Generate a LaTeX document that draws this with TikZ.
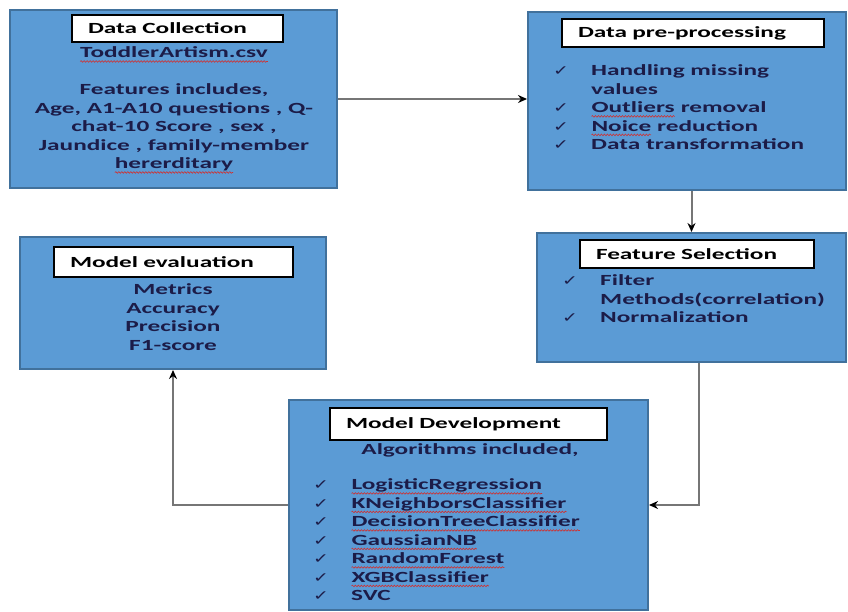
\documentclass[tikz,border=0pt]{standalone}
\usepackage{fontspec}
\setmainfont{Carlito}[FakeStretch=1.63]
\newfontfamily\symfont{DejaVu Sans}[FakeStretch=1.35]
\usetikzlibrary{arrows.meta, decorations.pathmorphing}
\definecolor{boxblue}{HTML}{5B9BD5}
\definecolor{boxedge}{HTML}{41719C}
\definecolor{inknavy}{HTML}{1C1C48}
\definecolor{linkgray}{HTML}{767676}
\definecolor{spellred}{HTML}{D03030}
\newcommand{\tick}{\makebox[38pt][l]{\symfont\fontsize{14}{18.5}\selectfont ✓}}
\newcommand{\nogap}{\hspace*{38pt}}
\newcommand{\spell}[1]{\tikz[baseline=(w.base)]{\node[inner sep=0pt, outer sep=0pt] (w) {#1};
    \draw[spellred, line width=0.6pt, decorate, decoration={snake, amplitude=0.8pt, segment length=3pt}]
        ([yshift=-3.8pt]w.base west) -- ([yshift=-3.8pt]w.base east);}}

\begin{document}
\begin{tikzpicture}[x=1pt, y=-1pt, >={Stealth[length=9pt,width=8pt,black]},
    stage/.style={rectangle, draw=boxedge, line width=2pt, fill=boxblue},
    heading/.style={rectangle, draw=black, line width=1.2pt, fill=white, inner xsep=16pt, align=left,
        font=\fontsize{15.5}{18.5}\selectfont\bfseries},
    body/.style={text=inknavy, inner sep=0pt, font=\fontsize{15.5}{18.5}\selectfont\bfseries,
        execute at begin node=\strut},
    link/.style={->, draw=linkgray, line width=2pt}]
                \useasboundingbox (0,0) rectangle (848,611);

                % stage boxes
                \node[stage, minimum width=327pt, minimum height=178pt] (DC) at (173.5,99) {};
                \node[stage, minimum width=318pt, minimum height=178pt] (DP) at (687,101) {};
                \node[stage, minimum width=309pt, minimum height=129pt] (FS) at (691.5,297.5) {};
                \node[stage, minimum width=306pt, minimum height=132pt] (ME) at (173,303) {};
                \node[stage, minimum width=359pt, minimum height=210pt] (MD) at (468.5,505) {};

                % headings
                \node[heading, text width=179pt, minimum height=27pt] (DCT) at (177.5,28.5) {Data Collection};
                \node[heading, text width=230pt, minimum height=28pt] (DPT) at (693,33) {Data pre-processing};
                \node[heading, text width=202pt, minimum height=28pt] (FST) at (697,254) {Feature Selection};
                \node[heading, text width=207pt, minimum height=30pt] (MET) at (173.5,262) {Model evaluation};
                \node[heading, text width=245pt, minimum height=32pt] (MDT) at (468.5,424) {Model Development};

                % contents
                \node[body, align=center, anchor=north] (DCB) at (174,44.5)
                    {\spell{ToddlerArtism.csv}\\[18.5pt]Features includes,\\Age, A1-A10 questions , Q-\\chat-10 Score , sex ,\\Jaundice , family-member\\\spell{hererditary}};
                \node[body, align=left, anchor=north west] (DPB) at (553,64.5)
                    {\tick Handling missing\\\nogap values\\\tick \spell{Outliers} removal\\\tick \spell{Noice} reduction\\\tick Data transformation};
                \node[body, align=left, anchor=north west] (FSB) at (562,274.5)
                    {\tick Filter\\\nogap Methods(correlation)\\\tick Normalization};
                \node[body, align=center, anchor=north] (MEB) at (173,283.5)
                    {Metrics\\Accuracy\\Precision\\F1-score};
                \node[body, align=center, anchor=north] (MDA) at (470,441.5) {Algorithms included,};
                \node[body, align=left, anchor=north west] (MDB) at (313,476.5)
                    {\tick \spell{LogisticRegression}\\\tick \spell{KNeighborsClassifier}\\\tick \spell{DecisionTreeClassifier}\\\tick \spell{GaussianNB}\\\tick \spell{RandomForest}\\\tick \spell{XGBClassifier}\\\tick SVC};

                % connectors
                \draw[link] (DC.east) -- (DC.east -| DP.west);
                \draw[link] (FS.north |- DP.south) -- (FS.north);
                \draw[link] ([xshift=7.5pt]FS.south) |- (MD.east);
                \draw[link] (MD.west) -| (ME.south);
            \end{tikzpicture}
\end{document}
